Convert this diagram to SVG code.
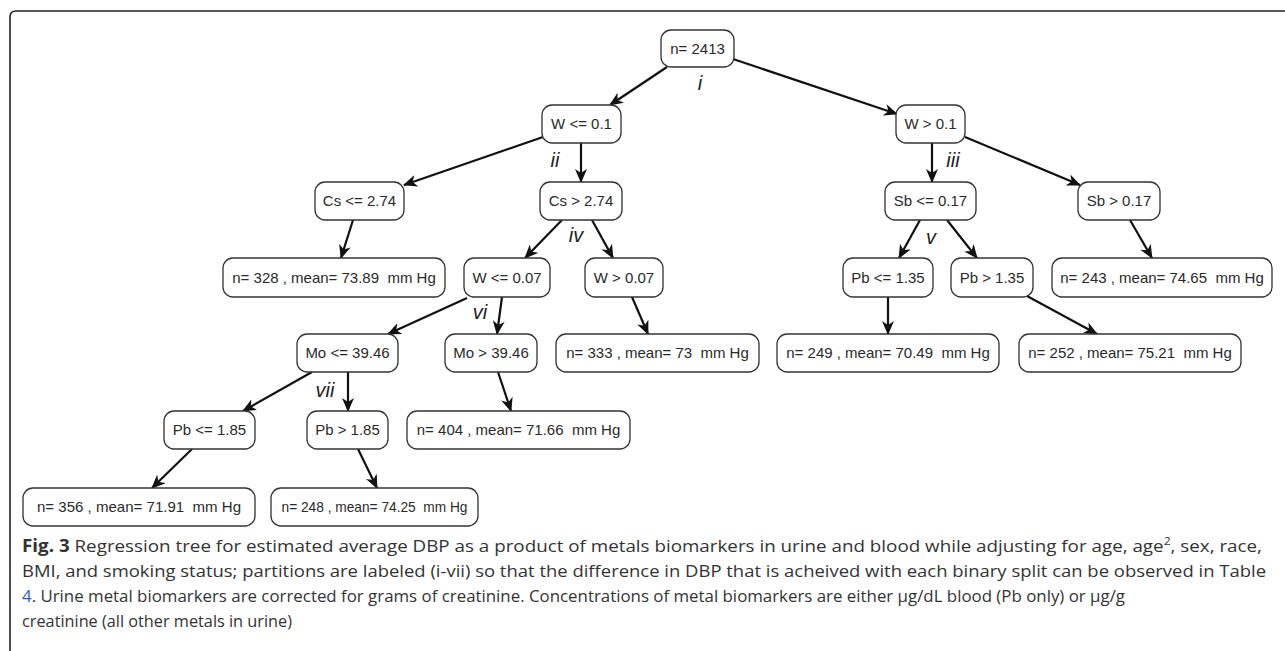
<svg xmlns="http://www.w3.org/2000/svg" width="1285" height="651" viewBox="0 0 1285 651">
<style>
.box{fill:#fff;stroke:#333;stroke-width:1.3}
.t{font-family:"Liberation Sans",Arial,sans-serif;font-size:15px;fill:#2a2a2a;text-anchor:middle;white-space:pre}
.e{stroke:#111;stroke-width:2.2;fill:none;marker-end:url(#ah)}
.lab{font-family:"Liberation Sans",Arial,sans-serif;font-size:20px;font-style:italic;fill:#222;text-anchor:middle}
.cap{font-family:"Open Sans","Noto Sans",sans-serif;font-size:17px;fill:#333}
</style>
<defs>
<marker id="ah" markerUnits="userSpaceOnUse" markerWidth="14" markerHeight="12" refX="13" refY="6" orient="auto">
<path d="M0,0 L14,6 L0,12 L4,6 z" fill="#111"/>
</marker>
</defs>
<rect width="1285" height="651" fill="#fff"/>
<path d="M10,651 L10,17 Q10,11 16,11 L1285,11" fill="none" stroke="#222" stroke-width="1.6"/>
<g id="connectors">
<line class="e" x1="667" y1="67" x2="610" y2="105"/>
<line class="e" x1="733" y1="59" x2="897" y2="114"/>
<line class="e" x1="543" y1="137" x2="404" y2="185"/>
<line class="e" x1="581" y1="143" x2="581" y2="182"/>
<line class="e" x1="932" y1="143" x2="932" y2="182"/>
<line class="e" x1="965" y1="137" x2="1080" y2="185"/>
<line class="e" x1="353" y1="220" x2="341" y2="258"/>
<line class="e" x1="562" y1="220" x2="525" y2="258"/>
<line class="e" x1="592" y1="220" x2="613" y2="258"/>
<line class="e" x1="920" y1="220" x2="899" y2="258"/>
<line class="e" x1="947" y1="220" x2="977" y2="258"/>
<line class="e" x1="1130" y1="220" x2="1152" y2="258"/>
<line class="e" x1="632" y1="297" x2="648" y2="334"/>
<line class="e" x1="467" y1="298" x2="388" y2="334"/>
<line class="e" x1="502" y1="297" x2="497" y2="334"/>
<line class="e" x1="888" y1="297" x2="888" y2="334"/>
<line class="e" x1="1027" y1="296" x2="1097" y2="334"/>
<line class="e" x1="312" y1="372" x2="243" y2="411"/>
<line class="e" x1="348" y1="372" x2="348" y2="411"/>
<line class="e" x1="498" y1="372" x2="511" y2="411"/>
<line class="e" x1="192" y1="449" x2="152" y2="488"/>
<line class="e" x1="358" y1="449" x2="377" y2="488"/>
</g>
<g id="labels">
<text class="lab" x="700" y="90">i</text>
<text class="lab" x="555" y="167">ii</text>
<text class="lab" x="953" y="167">iii</text>
<text class="lab" x="576" y="242">iv</text>
<text class="lab" x="931" y="244">v</text>
<text class="lab" x="480" y="319">vi</text>
<text class="lab" x="325" y="397">vii</text>
</g>
<g id="n1"><rect class="box" x="661" y="30" width="73" height="37" rx="10"/><text class="t" x="697.5" y="54">n= 2413</text></g>
<g id="n2"><rect class="box" x="542" y="105" width="79" height="38" rx="10"/><text class="t" x="581.5" y="129">W &lt;= 0.1</text></g>
<g id="n3"><rect class="box" x="896" y="105" width="69" height="38" rx="10"/><text class="t" x="930.5" y="129">W &gt; 0.1</text></g>
<g id="n4"><rect class="box" x="315" y="182" width="89" height="38" rx="10"/><text class="t" x="359.5" y="206">Cs &lt;= 2.74</text></g>
<g id="n5"><rect class="box" x="540" y="182" width="82" height="38" rx="10"/><text class="t" x="581" y="206">Cs &gt; 2.74</text></g>
<g id="n6"><rect class="box" x="885" y="182" width="91" height="38" rx="10"/><text class="t" x="930.5" y="206">Sb &lt;= 0.17</text></g>
<g id="n7"><rect class="box" x="1078" y="182" width="82" height="38" rx="10"/><text class="t" x="1119" y="206">Sb &gt; 0.17</text></g>
<g id="n8"><rect class="box" x="223" y="258" width="222" height="39" rx="10"/><text class="t" x="334" y="283">n= 328 , mean= 73.89  mm Hg</text></g>
<g id="n9"><rect class="box" x="464" y="258" width="86" height="39" rx="10"/><text class="t" x="507" y="283">W &lt;= 0.07</text></g>
<g id="n10"><rect class="box" x="585" y="258" width="78" height="39" rx="10"/><text class="t" x="624" y="283">W &gt; 0.07</text></g>
<g id="n11"><rect class="box" x="843" y="258" width="90" height="39" rx="10"/><text class="t" x="888" y="283">Pb &lt;= 1.35</text></g>
<g id="n12"><rect class="box" x="951" y="258" width="82" height="39" rx="10"/><text class="t" x="992" y="283">Pb &gt; 1.35</text></g>
<g id="n13"><rect class="box" x="1052" y="258" width="220" height="39" rx="10"/><text class="t" x="1162" y="283">n= 243 , mean= 74.65  mm Hg</text></g>
<g id="n14"><rect class="box" x="297" y="334" width="101" height="38" rx="10"/><text class="t" x="347.5" y="358">Mo &lt;= 39.46</text></g>
<g id="n15"><rect class="box" x="445" y="334" width="92" height="38" rx="10"/><text class="t" x="491" y="358">Mo &gt; 39.46</text></g>
<g id="n16"><rect class="box" x="556" y="334" width="203" height="38" rx="10"/><text class="t" x="657.5" y="358">n= 333 , mean= 73  mm Hg</text></g>
<g id="n17"><rect class="box" x="777" y="334" width="222" height="38" rx="10"/><text class="t" x="888" y="358">n= 249 , mean= 70.49  mm Hg</text></g>
<g id="n18"><rect class="box" x="1019" y="334" width="222" height="38" rx="10"/><text class="t" x="1130" y="358">n= 252 , mean= 75.21  mm Hg</text></g>
<g id="n19"><rect class="box" x="164" y="411" width="91" height="38" rx="10"/><text class="t" x="209.5" y="435">Pb &lt;= 1.85</text></g>
<g id="n20"><rect class="box" x="307" y="411" width="81" height="38" rx="10"/><text class="t" x="347.5" y="435">Pb &gt; 1.85</text></g>
<g id="n21"><rect class="box" x="407" y="411" width="223" height="38" rx="10"/><text class="t" x="518.5" y="435">n= 404 , mean= 71.66  mm Hg</text></g>
<g id="n22"><rect class="box" x="23" y="488" width="232" height="38" rx="10"/><text class="t" x="139" y="512" textLength="204" lengthAdjust="spacingAndGlyphs">n= 356 , mean= 71.91  mm Hg</text></g>
<g id="n23"><rect class="box" x="271" y="488" width="207" height="38" rx="10"/><text class="t" x="374.5" y="512" textLength="186" lengthAdjust="spacingAndGlyphs">n= 248 , mean= 74.25  mm Hg</text></g>
<g id="caption">
<text class="cap" x="22" y="552" textLength="1240" lengthAdjust="spacingAndGlyphs"><tspan font-weight="bold">Fig. 3</tspan> Regression tree for estimated average DBP as a product of metals biomarkers in urine and blood while adjusting for age, age<tspan dy="-7" font-size="11">2</tspan><tspan dy="7">, sex, race,</tspan></text>
<text class="cap" x="22" y="577" textLength="1244" lengthAdjust="spacingAndGlyphs">BMI, and smoking status; partitions are labeled (i-vii) so that the difference in DBP that is acheived with each binary split can be observed in Table</text>
<text class="cap" x="22" y="602" textLength="1103" lengthAdjust="spacingAndGlyphs"><tspan fill="#2a62c9">4</tspan>. Urine metal biomarkers are corrected for grams of creatinine. Concentrations of metal biomarkers are either μg/dL blood (Pb only) or μg/g</text>
<text class="cap" x="22" y="627" textLength="270" lengthAdjust="spacingAndGlyphs">creatinine (all other metals in urine)</text>
</g>
</svg>
